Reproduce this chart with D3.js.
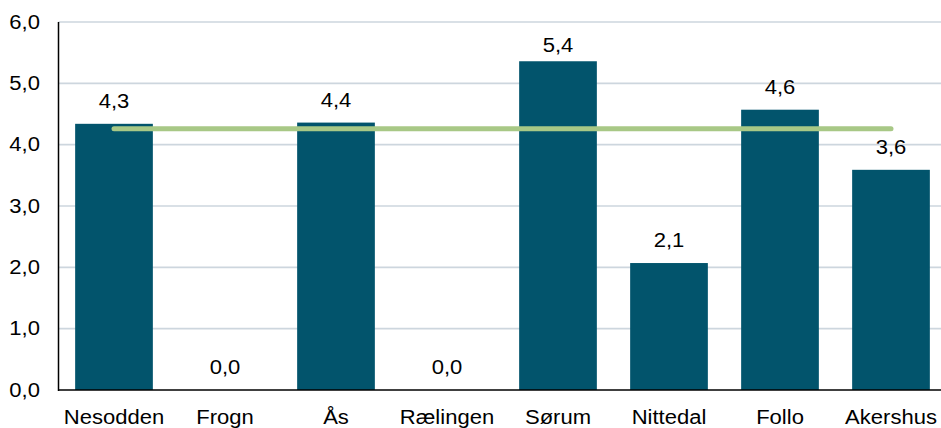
<!DOCTYPE html>
<html><head><meta charset="utf-8">
<script src="https://cdn.jsdelivr.net/npm/d3@7"></script>
<style>body{margin:0;background:#fff}svg{display:block}text{font-family:"Liberation Sans",Arial,sans-serif;fill:#000}</style>
</head><body>
<svg id="c" width="941" height="428"></svg>
<script>
const categories = ["Nesodden","Frogn","Ås","Rælingen","Sørum","Nittedal","Follo","Akershus"];
const values = [4.34, 0, 4.36, 0, 5.36, 2.07, 4.57, 3.59];
const labels = ["4,3","0,0","4,4","0,0","5,4","2,1","4,6","3,6"];
const refValue = [4.26];
const yTicks = [0,1,2,3,4,5,6];
const yTickLabels = ["0,0","1,0","2,0","3,0","4,0","5,0","6,0"];

(function(){
const svg = d3.select("#c");
const pLeft = 58.5, pRight = 946.5, pTop = 22, pBottom = 390;
const x = d3.scaleBand().domain(categories).range([pLeft, pRight]).paddingInner(0.3).paddingOuter(0.15);
const y = d3.scaleLinear().domain([0,6]).range([pBottom, pTop]);
const FONT = '"Liberation Sans",Arial,sans-serif';
const FS = 19.5, SX = 1.13;

// gridlines
svg.append("g").selectAll("line").data(yTicks.filter(d=>d>0)).join("line")
  .attr("x1", pLeft).attr("x2", 941).attr("y1", d=>y(d)).attr("y2", d=>y(d))
  .attr("stroke", "#cdd6de").attr("stroke-width", 1.6);

// y tick labels
const yAxis = d3.axisLeft(y).tickValues(yTicks).tickFormat((d,i)=>yTickLabels[i]).tickSize(0).tickPadding(16.4);
const ga = svg.append("g").attr("transform", `translate(${pLeft},0)`).call(yAxis);
ga.select(".domain").remove();
ga.selectAll("text").attr("font-size", FS).attr("font-family", FONT).attr("fill","#000")
  .attr("transform", `scale(${SX},1)`);

// bars
svg.append("g").selectAll("rect").data(values).join("rect")
  .attr("x", (d,i)=>x(categories[i])).attr("width", x.bandwidth())
  .attr("y", d=>y(d)).attr("height", d=>y(0)-y(d))
  .attr("fill", "#02546c");

// value labels
svg.append("g").selectAll("g").data(values).join("g")
  .attr("transform", (d,i)=>`translate(${x(categories[i]) + x.bandwidth()/2},${Math.max(y(d) - 16, pTop + 30)})`)
  .append("text")
  .attr("text-anchor", "middle").attr("font-size", FS).attr("font-family", FONT)
  .attr("transform", `scale(${SX},1)`)
  .text((d,i)=>labels[i]);

// reference line
const cx0 = x(categories[0]) + x.bandwidth()/2;
const cx1 = x(categories[categories.length-1]) + x.bandwidth()/2;
svg.append("line")
  .attr("x1", cx0).attr("x2", cx1).attr("y1", y(refValue[0])).attr("y2", y(refValue[0]))
  .attr("stroke", "#a8c886").attr("stroke-width", 5).attr("stroke-linecap", "round");

// axes lines
svg.append("line").attr("x1", pLeft).attr("x2", pLeft).attr("y1", pTop).attr("y2", pBottom+1)
  .attr("stroke", "#000").attr("stroke-width", 1.5);
svg.append("line").attr("x1", pLeft).attr("x2", 941).attr("y1", pBottom).attr("y2", pBottom)
  .attr("stroke", "#000").attr("stroke-width", 1.5);

// category labels
const xAxis = d3.axisBottom(x).tickSize(0).tickPadding(19.7);
const gx = svg.append("g").attr("transform", `translate(0,${pBottom})`).call(xAxis);
gx.select(".domain").remove();
gx.selectAll("text").attr("font-size", FS).attr("font-family", FONT).attr("fill","#000")
  .attr("transform", `scale(${SX},1)`);
})();
</script>
</body></html>
